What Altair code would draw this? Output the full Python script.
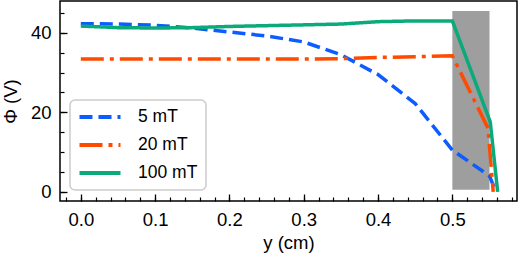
import altair as alt
import pandas as pd

# ---- data ----
x_5 = [0.0, 0.05, 0.1, 0.15, 0.2, 0.25, 0.3, 0.35, 0.4, 0.45, 0.5, 0.55, 0.558]
phi_5 = [42.3, 42.2, 41.9, 41.2, 40.2, 39.2, 37.7, 34.5, 29.5, 22.2, 10.5, 4.0, 0.3]

x_20 = [0.0, 0.05, 0.1, 0.15, 0.2, 0.25, 0.3, 0.35, 0.4, 0.45, 0.5, 0.548, 0.555]
phi_20 = [33.4, 33.4, 33.4, 33.4, 33.4, 33.4, 33.4, 33.5, 33.8, 34.0, 34.2, 16.0, 0.0]

x_100 = [0.0, 0.05, 0.1, 0.15, 0.2, 0.25, 0.3, 0.35, 0.4, 0.45, 0.5, 0.551, 0.561]
phi_100 = [41.7, 41.3, 41.2, 41.3, 41.6, 41.8, 42.0, 42.2, 42.8, 43.0, 43.0, 17.6, 0.0]

series_names = ["5 mT", "20 mT", "100 mT"]
series_colors = ["#0d5cff", "#ff4a00", "#0aaa7a"]
series_dashes = [[13, 6], [23, 6, 4, 6], [1, 0]]

band_x = [0.5, 0.55]
band_y = [0.5, 45.5]

x_major = [0.0, 0.1, 0.2, 0.3, 0.4, 0.5]
x_minor = [round(-0.02 + 0.02 * i, 2) for i in range(31)]
y_major = [0, 20, 40]
y_minor = [0, 5, 10, 15, 20, 25, 30, 35, 40, 45]

x_domain = [-0.028, 0.587]
y_domain = [-2.3, 48]

rows = []
for name, xs, ys in [("5 mT", x_5, phi_5), ("20 mT", x_20, phi_20), ("100 mT", x_100, phi_100)]:
    for i, (a, b) in enumerate(zip(xs, ys)):
        rows.append({"series": name, "y_cm": a, "phi": b, "order": i})
df = pd.DataFrame(rows)
df_band = pd.DataFrame({"x0": [band_x[0]], "x1": [band_x[1]], "y0": [band_y[0]], "y1": [band_y[1]]})

FONT = "Liberation Sans"
FS = 18.5
xs = alt.Scale(domain=x_domain, nice=False, zero=False)
ys = alt.Scale(domain=y_domain, nice=False, zero=False)

# main axes: labels + titles
band = alt.Chart(df_band).mark_rect(color="#9e9e9e").encode(
    x=alt.X("x0:Q", scale=xs, axis=alt.Axis(
        orient="bottom", values=x_major, format=".1f", ticks=False, domain=False, grid=False,
        labelPadding=9, labelFontSize=FS, labelFont=FONT, labelColor="black",
        title="y (cm)", titleFontSize=FS, titleFont=FONT, titleFontWeight="normal", titlePadding=5)),
    x2="x1:Q",
    y=alt.Y("y0:Q", scale=ys, axis=alt.Axis(
        orient="left", values=y_major, ticks=False, domain=False, grid=False,
        labelPadding=9, labelFontSize=FS, labelFont=FONT, labelColor="black",
        title="Φ (V)", titleFontSize=FS, titleFont=FONT, titleFontWeight="normal", titlePadding=10)),
    y2="y1:Q",
)

lines = alt.Chart(df).mark_line(strokeWidth=3.5).encode(
    x=alt.X("y_cm:Q", scale=xs, axis=alt.Axis(
        orient="bottom", values=x_major, offset=-7, tickSize=7, tickWidth=1.3, tickColor="black",
        labels=False, domain=False, grid=False, title=None)),
    y=alt.Y("phi:Q", scale=ys, axis=alt.Axis(
        orient="left", values=y_major, offset=-7, tickSize=7, tickWidth=1.3, tickColor="black",
        labels=False, domain=False, grid=False, title=None)),
    color=alt.Color("series:N", scale=alt.Scale(domain=series_names, range=series_colors),
                    sort=series_names, title=None),
    strokeDash=alt.StrokeDash("series:N", scale=alt.Scale(domain=series_names, range=series_dashes),
                              sort=series_names, title=None),
    order="order:Q",
)

minor = alt.Chart(df).mark_line(opacity=0).encode(
    x=alt.X("y_cm:Q", scale=xs, axis=alt.Axis(
        orient="bottom", values=x_minor, offset=-4, tickSize=4, tickWidth=1.2, tickColor="black",
        labels=False, domain=False, grid=False, title=None)),
    y=alt.Y("phi:Q", scale=ys, axis=alt.Axis(
        orient="left", values=y_minor, offset=-4, tickSize=4, tickWidth=1.2, tickColor="black",
        labels=False, domain=False, grid=False, title=None)),
)

chart = alt.layer(band, lines, minor).resolve_axis(x="independent", y="independent").properties(
    width=457, height=200,
    autosize=alt.AutoSizeParams(type="none"),
    padding={"left": 60, "top": 1, "right": 1, "bottom": 56},
).configure_view(stroke="black", strokeWidth=1.5).configure_legend(
    orient="none", legendX=10, legendY=99,
    symbolType="M-2.93,0L2.93,0", symbolSize=196, symbolStrokeWidth=4,
    symbolOffset=13, labelOffset=29, padding=8,
    labelFontSize=17.5, labelFont=FONT, labelColor="black", rowPadding=10,
    strokeColor="#cccccc", strokeWidth=1.5, cornerRadius=5, fillColor="white",
)

chart.save("out.html", embed_options={"renderer": "svg", "actions": False})
